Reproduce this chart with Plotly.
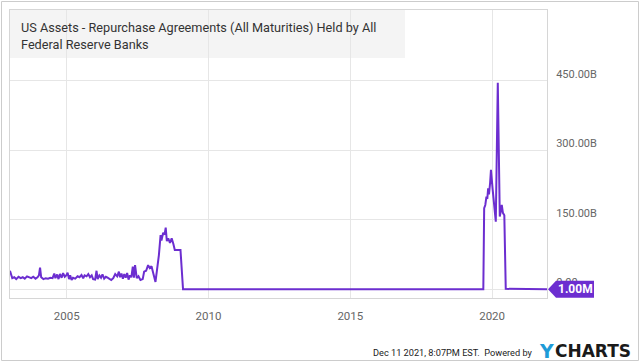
import pandas as pd
import plotly.graph_objects as go

# ---- data (decimal years, values in billions USD) ----
years = [
    2003.00, 2003.04, 2003.08, 2003.15, 2003.22, 2003.30, 2003.38, 2003.45, 2003.52, 2003.60,
    2003.68, 2003.75, 2003.82, 2003.90, 2003.97, 2004.02, 2004.06, 2004.10, 2004.18, 2004.26,
    2004.34, 2004.42, 2004.50, 2004.56, 2004.60, 2004.66, 2004.71, 2004.76, 2004.82, 2004.87,
    2004.93, 2004.98, 2005.03, 2005.08, 2005.12, 2005.17, 2005.22, 2005.30, 2005.38, 2005.45,
    2005.52, 2005.58, 2005.63, 2005.70, 2005.76, 2005.82, 2005.88, 2005.93, 2006.00, 2006.05,
    2006.09, 2006.15, 2006.21, 2006.26, 2006.32, 2006.38, 2006.44, 2006.50, 2006.57, 2006.64,
    2006.71, 2006.78, 2006.84, 2006.88, 2006.93, 2006.98, 2007.03, 2007.08, 2007.13, 2007.18,
    2007.23, 2007.28, 2007.33, 2007.37, 2007.41, 2007.47, 2007.53, 2007.60, 2007.68, 2007.73,
    2007.80, 2007.87, 2007.93, 2007.99, 2008.06, 2008.13, 2008.25, 2008.31, 2008.34, 2008.40,
    2008.45, 2008.49, 2008.53, 2008.58, 2008.64, 2008.70, 2008.76, 2008.81, 2009.01, 2009.10,
    2012.00, 2016.00, 2019.69, 2019.72, 2019.76, 2019.80, 2019.83, 2019.86, 2019.89, 2019.93,
    2019.96, 2020.02, 2020.06, 2020.10, 2020.13, 2020.20, 2020.24, 2020.27, 2020.31, 2020.34,
    2020.38, 2020.43, 2020.48, 2020.70, 2021.00, 2021.40, 2021.80, 2021.935,
]
values_b = [
    40, 28, 24, 26, 22, 27, 24, 26, 23, 28,
    25, 24, 27, 23, 26, 30, 47, 26, 22, 24,
    23, 25, 24, 34, 24, 32, 22, 33, 25, 35,
    27, 30, 36, 22, 30, 20, 25, 23, 28, 26,
    31, 24, 30, 28, 33, 26, 30, 22, 21, 40,
    22, 30, 25, 32, 23, 27, 25, 22, 20, 24,
    33, 28, 38, 26, 34, 23, 33, 25, 35, 21,
    30, 26, 49, 25, 52, 24, 28, 20, 22, 38,
    40, 52, 46, 50, 30, 16, 74, 117, 105, 122,
    118, 133, 104, 110, 100, 110, 98, 85, 85, 0,
    0, 0, 0, 175, 182, 200, 195, 218, 205, 230,
    258, 215, 186, 160, 146, 446, 200, 157, 170, 182,
    165, 160, 1, 1, 1, 1, 1, 0.001,
]

x_ticks = ["2005", "2010", "2015", "2020"]
y_tickvals_b = [0, 150, 300, 450]
y_ticktext = ["0.00", "150.00B", "300.00B", "450.00B"]
last_label = "1.00M"
title_text = "US Assets - Repurchase Agreements (All Maturities) Held by All<br>Federal Reserve Banks"
footer_text = "Dec 11 2021, 8:07PM EST.  Powered by"

# ---- convert ----
def dec_to_date(y):
    yr = int(y)
    start = pd.Timestamp(year=yr, month=1, day=1)
    end = pd.Timestamp(year=yr + 1, month=1, day=1)
    return start + (end - start) * (y - yr)

dates = [dec_to_date(y) for y in years]
values = [v * 1e9 for v in values_b]

PURPLE = "#6c2ed0"
GRID = "#e6e6e6"

fig = go.Figure()
fig.add_trace(go.Scatter(x=dates, y=values, mode="lines",
                         line=dict(color=PURPLE, width=2), hoverinfo="skip"))

W, H = 640, 362
L, R, T, B = 10, 93, 10, 64
pw, ph = W - L - R, H - T - B

def px_x(p):
    return (p - L) / pw

def px_y(p):
    return (H - B - p) / ph

fig.update_layout(
    width=W, height=H,
    margin=dict(l=L, r=R, t=T, b=B, pad=0),
    paper_bgcolor="white", plot_bgcolor="white",
    showlegend=False,
    font=dict(family="Roboto", color="#666666", size=12),
    xaxis=dict(
        type="date",
        range=["2003-01-01", "2021-12-08"],
        tickvals=[pd.Timestamp(f"{t}-01-01") for t in x_ticks],
        ticktext=x_ticks,
        showgrid=True, gridcolor=GRID, gridwidth=1,
        showline=True, linecolor="#d6d6d6", linewidth=1, mirror=True,
        ticks="", ticklabelstandoff=7,
        tickfont=dict(size=11.5, color="#666666"),
        zeroline=False,
    ),
    yaxis=dict(
        side="right",
        range=[-18.8e9, 603e9],
        tickvals=[v * 1e9 for v in y_tickvals_b],
        ticktext=y_ticktext,
        showgrid=True, gridcolor=GRID, gridwidth=1,
        showline=True, linecolor="#d6d6d6", linewidth=1, mirror=True,
        ticks="", ticklabelstandoff=6, ticklabelshift=-7,
        tickfont=dict(size=11, color="#666666"),
        zeroline=False,
    ),
)

# title box
fig.add_shape(type="rect", xref="paper", yref="paper",
              x0=0, x1=px_x(405), y0=px_y(58), y1=1,
              fillcolor="#f4f4f4", line=dict(width=0), layer="below")
fig.add_annotation(xref="paper", yref="paper", x=px_x(19), y=px_y(18),
                   xanchor="left", yanchor="top", align="left", showarrow=False,
                   text=title_text,
                   font=dict(family="Roboto", size=12.7, color="#333333"))

# outer frame
fig.add_shape(type="rect", xref="paper", yref="paper",
              x0=px_x(1.5), x1=px_x(638.5), y0=px_y(360.5), y1=px_y(1.5),
              line=dict(color="#cccccc", width=1), fillcolor="rgba(0,0,0,0)", layer="above")

# last value label with arrow
fig.add_shape(type="path", xref="paper", yref="y",
              xsizemode="pixel", ysizemode="pixel",
              xanchor=1, yanchor=values[-1],
              path="M1,0 L9,8.5 L47,8.5 L47,-8.5 L9,-8.5 Z",
              fillcolor=PURPLE, line=dict(width=0), layer="above")
fig.add_annotation(xref="paper", yref="y", x=1, y=values[-1], xshift=28,
                   text=f"<b>{last_label}</b>", showarrow=False,
                   xanchor="center", yanchor="middle",
                   font=dict(family="Roboto", size=12, color="white"))

# footer
fig.add_annotation(xref="paper", yref="paper", x=px_x(535), y=px_y(352),
                   xanchor="right", yanchor="middle", showarrow=False,
                   text=footer_text,
                   font=dict(family="Roboto", size=9.2, color="#222222"))
fig.add_annotation(xref="paper", yref="paper", x=px_x(537), y=px_y(351),
                   xanchor="left", yanchor="middle", showarrow=False,
                   text="<b>Y</b>",
                   font=dict(family="DejaVu Sans", size=19, color="#1e9bd7"))
fig.add_annotation(xref="paper", yref="paper", x=px_x(553), y=px_y(351),
                   xanchor="left", yanchor="middle", showarrow=False,
                   text="<b>CHARTS</b>",
                   font=dict(family="DejaVu Sans", size=17, color="#1a1a1a"))

fig.write_html("out.html", config={"displayModeBar": False},
               post_script="document.body.style.margin='0';")
